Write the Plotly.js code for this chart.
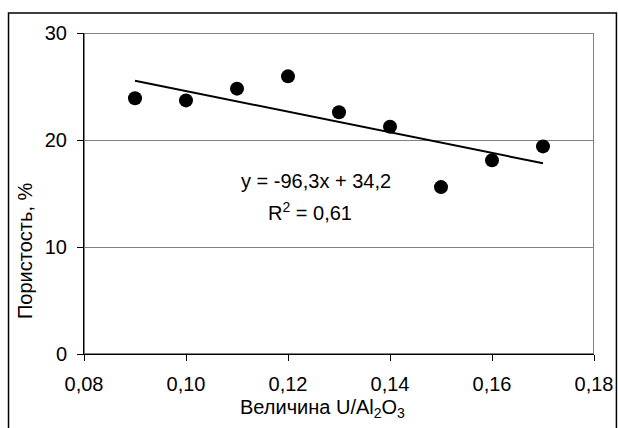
<!DOCTYPE html>
<html>
<head>
<meta charset="utf-8">
<script src="https://cdn.plot.ly/plotly-3.0.1.min.js"></script>
<style>
html,body{margin:0;padding:0;background:#fff;}
#chart{width:618px;height:428px;}
</style>
</head>
<body>
<div id="chart"></div>
<script>
// Data
const ratioU = [0.09, 0.10, 0.11, 0.12, 0.13, 0.14, 0.15, 0.16, 0.17];
const porosity = [23.9, 23.7, 24.8, 25.95, 22.6, 21.25, 15.6, 18.1, 19.4];
// Linear trend shown on the chart: y = -96,3x + 34,2
const trendSlope = -96.3;
const trendIntercept = 34.2;
const trendX = [0.09, 0.17];
const trendY = trendX.map(x => trendSlope * x + trendIntercept);
const xTicks = [0.08, 0.10, 0.12, 0.14, 0.16, 0.18];
const yTicks = [0, 10, 20, 30];
const eqText = "y = -96,3x + 34,2";
const r2Text = "R<sup>2</sup> = 0,61";
const xTitle = "Величина U/Al<sub>2</sub>O<sub>3</sub>";
const yTitle = "Пористость, %";

const FONT = "Liberation Sans, Arial, sans-serif";
const FS = 20;

const traces = [
  {
    x: trendX, y: trendY, type: 'scatter', mode: 'lines',
    line: {color: '#000', width: 2}, hoverinfo: 'skip', showlegend: false
  },
  {
    x: ratioU, y: porosity, type: 'scatter', mode: 'markers',
    marker: {color: '#000', size: 14}, showlegend: false
  }
];

const layout = {
  width: 618, height: 428,
  margin: {l: 84, r: 24, t: 33, b: 74, pad: 0},
  paper_bgcolor: '#fff', plot_bgcolor: '#fff',
  separators: ', ',
  font: {family: FONT, size: FS, color: '#000'},
  showlegend: false,
  xaxis: {
    range: [0.08, 0.18], tickvals: xTicks, tickformat: '.2f',
    ticks: 'outside', ticklen: 6, tickcolor: '#000', tickwidth: 1,
    showline: true, linecolor: '#000', linewidth: 1,
    showgrid: false, zeroline: false, ticklabelstandoff: 6,
    tickfont: {family: FONT, size: FS, color: '#000'}
  },
  yaxis: {
    range: [0, 30], tickvals: yTicks,
    ticks: 'outside', ticklen: 6, tickcolor: '#000', tickwidth: 1,
    showline: true, linecolor: '#000', linewidth: 1,
    showgrid: true, gridcolor: '#808080', gridwidth: 1, zeroline: false,
    ticklabelstandoff: 6,
    tickfont: {family: FONT, size: FS, color: '#000'}
  },
  shapes: [
    // plot area border (gray, top & right visible)
    {type: 'rect', xref: 'x', yref: 'y', x0: 0.08, x1: 0.18, y0: 0, y1: 30,
     line: {color: '#808080', width: 2}, layer: 'below'},
    // outer chart frame
    {type: 'rect', xref: 'paper', yref: 'paper', x0: -0.148, x1: 1.044, y0: -0.3, y1: 1.062,
     line: {color: '#000', width: 1.5}}
  ],
  annotations: [
    {text: eqText, xref: 'paper', yref: 'paper', x: (316 - 84) / 510, y: (354 - 181) / 321,
     showarrow: false, xanchor: 'center', yanchor: 'middle', font: {family: FONT, size: FS, color: '#000'}},
    {text: r2Text, xref: 'paper', yref: 'paper', x: (310 - 84) / 510, y: (354 - 211) / 321,
     showarrow: false, xanchor: 'center', yanchor: 'middle', font: {family: FONT, size: FS, color: '#000'}},
    {text: xTitle, xref: 'paper', yref: 'paper', x: (322 - 84) / 510, y: (354 - 408) / 321,
     showarrow: false, xanchor: 'center', yanchor: 'middle', font: {family: FONT, size: FS, color: '#000'}},
    {text: yTitle, xref: 'paper', yref: 'paper', x: (25 - 84) / 510, y: (354 - 251) / 321,
     showarrow: false, xanchor: 'center', yanchor: 'middle', textangle: -90,
     font: {family: FONT, size: FS, color: '#000'}}
  ]
};

Plotly.newPlot('chart', traces, layout, {displayModeBar: false, staticPlot: true});
</script>
</body>
</html>
